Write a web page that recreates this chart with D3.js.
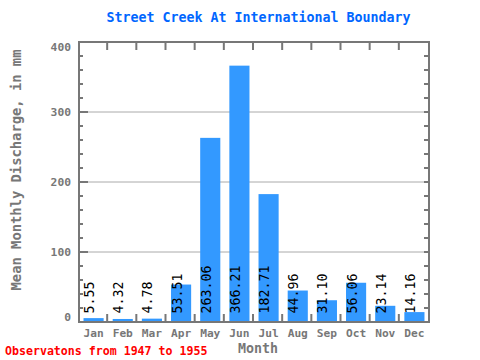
<!DOCTYPE html>
<html><head><meta charset="utf-8">
<script src="https://cdn.jsdelivr.net/npm/d3@7"></script>
<style>body{margin:0;background:#fff}svg{display:block}</style>
</head><body>
<script>
const months = ["Jan","Feb","Mar","Apr","May","Jun","Jul","Aug","Sep","Oct","Nov","Dec"];
const values = [5.55,4.32,4.78,53.51,263.06,366.21,182.71,44.96,31.10,56.06,23.14,14.16];
const yTicks = [0,100,200,300,400];
const title = "Street Creek At International Boundary";
const yTitle = "Mean Monthly Discharge, in mm";
const xTitle = "Month";
const note = "Observatons from 1947 to 1955";

const W=480,H=360;
const m={l:79,r:51,t:42,b:38};
const svg=d3.select("body").append("svg").attr("width",W).attr("height",H);
const font="'DejaVu Sans Mono', 'Liberation Mono', monospace";
const x=d3.scaleBand().domain(months).range([m.l,W-m.r]).paddingInner(0.31).paddingOuter(0.155);
const xb=d3.scaleLinear().domain([0,12]).range([m.l,W-m.r]);
const y=d3.scaleLinear().domain([0,400]).range([H-m.b,m.t]);
const grey="#777";

// gridlines
svg.append("g").selectAll("line").data([100,200,300]).join("line")
  .attr("x1",m.l).attr("x2",W-m.r).attr("y1",d=>y(d)).attr("y2",d=>y(d))
  .attr("stroke","#aaa").attr("stroke-width",1);

// bars
svg.append("g").selectAll("rect").data(values).join("rect")
  .attr("x",(d,i)=>x(months[i])).attr("width",x.bandwidth())
  .attr("y",d=>y(d)).attr("height",d=>y(0)-y(d))
  .attr("fill","#3399ff");

// value labels
svg.append("g").selectAll("text").data(values).join("text")
  .attr("transform",(d,i)=>`translate(${x(months[i])+x.bandwidth()/2+0.5},${y(0)-8.5}) rotate(-90)`)
  .attr("font-family",font).attr("font-size",13.3).attr("fill","#000")
  .text(d=>d.toFixed(2));

// frame
svg.append("rect").attr("x",m.l).attr("y",m.t).attr("width",W-m.l-m.r).attr("height",H-m.t-m.b)
  .attr("fill","none").attr("stroke",grey).attr("stroke-width",2);

// y ticks left & right
const minor=d3.range(0,401,20);
const tg=svg.append("g").attr("stroke",grey).attr("stroke-width",2);
tg.selectAll(".l").data(minor).join("line").attr("class","l")
  .attr("x1",m.l).attr("x2",d=>m.l+(d%100===0?9:4)).attr("y1",d=>y(d)).attr("y2",d=>y(d));
tg.selectAll(".r").data(minor).join("line").attr("class","r")
  .attr("x1",W-m.r).attr("x2",W-m.r-5).attr("y1",d=>y(d)).attr("y2",d=>y(d));
// x ticks top & bottom at boundaries
const bnd=d3.range(1,12);
tg.selectAll(".t").data(bnd).join("line").attr("class","t")
  .attr("x1",d=>xb(d)-1).attr("x2",d=>xb(d)-1).attr("y1",m.t).attr("y2",m.t+8);
tg.selectAll(".b").data(bnd).join("line").attr("class","b")
  .attr("x1",d=>xb(d)-1).attr("x2",d=>xb(d)-1).attr("y1",H-m.b).attr("y2",H-m.b-8);

// y tick labels
const yLabOff = d => d===400 ? 5 : (d===0 ? -5 : 0);
svg.append("g").selectAll("text").data(yTicks).join("text")
  .attr("x",m.l-8).attr("y",d=>y(d)+4+yLabOff(d)).attr("text-anchor","end")
  .attr("font-family",font).attr("font-size",11.3).attr("font-weight","bold").attr("fill",grey)
  .text(d=>d);

// x labels
svg.append("g").selectAll("text").data(months).join("text")
  .attr("x",d=>x(d)+x.bandwidth()/2).attr("y",H-m.b+15).attr("text-anchor","middle")
  .attr("font-family",font).attr("font-size",11.2).attr("font-weight","bold").attr("fill",grey)
  .text(d=>d);

// titles
svg.append("text").attr("x",258.5).attr("y",22).attr("text-anchor","middle")
  .attr("font-family",font).attr("font-size",13.3).attr("font-weight","bold").attr("fill","#0066ff").text(title);
svg.append("text").attr("x",258).attr("y",352.5).attr("text-anchor","middle")
  .attr("font-family",font).attr("font-size",13.3).attr("font-weight","bold").attr("fill",grey).text(xTitle);
svg.append("text").attr("transform",`translate(21,170) rotate(-90)`).attr("text-anchor","middle")
  .attr("font-family",font).attr("font-size",13.8).attr("font-weight","bold").attr("fill",grey).text(yTitle);
svg.append("text").attr("x",5).attr("y",355)
  .attr("font-family",font).attr("font-size",11.6).attr("font-weight","bold").attr("fill","#ff0000").text(note);
</script>
</body></html>
